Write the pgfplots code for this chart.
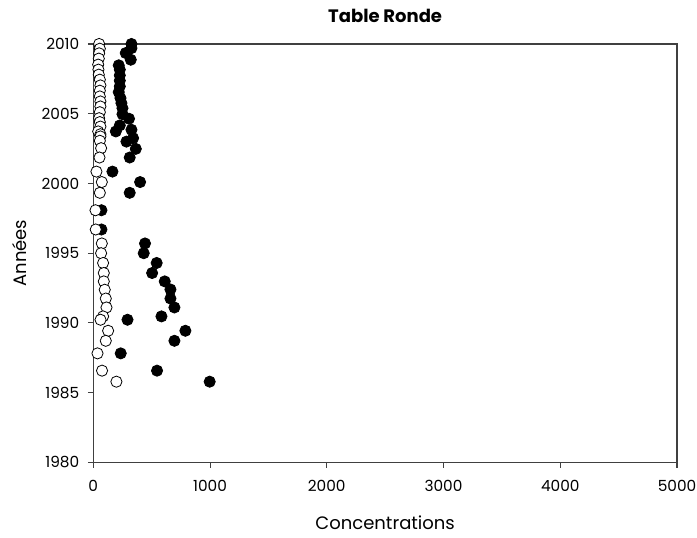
\documentclass[border=0pt]{standalone}
\usepackage{fontspec}
\setmainfont{Poppins}
\usepackage{pgfplots}
\pgfplotsset{compat=1.18}
\usepackage{pgfplotstable}

% black series (drawn first)
\pgfplotstableread{
conc year
327 2010.00
327 2009.70
278 2009.35
321 2008.87
218 2008.47
227 2008.16
227 2007.75
227 2007.37
227 2006.96
218 2006.55
233 2006.12
241 2005.76
250 2005.40
250 2004.97
306 2004.64
227 2004.16
327 2003.85
193 2003.73
341 2003.25
284 2003.00
364 2002.48
312 2001.86
164 2000.85
401 2000.10
312 1999.33
70 1998.08
70 1996.70
443 1995.70
432 1995.00
543 1994.30
504 1993.58
612 1992.98
661 1992.40
661 1991.75
695 1991.11
584 1990.47
293 1990.23
789 1989.44
695 1988.72
235 1987.82
546 1986.58
997 1985.79
}\blackdata

% white series
\pgfplotstableread{
conc year
50 2010.00
56 2009.66
50 2009.33
47 2008.95
42 2008.52
44 2008.16
47 2007.80
56 2007.44
61 2007.03
56 2006.65
56 2006.24
61 2005.88
61 2005.52
56 2005.11
50 2004.68
56 2004.40
61 2004.08
42 2003.73
61 2003.53
61 2003.37
56 2003.06
67 2002.53
53 2001.86
27 2000.85
73 2000.10
56 1999.33
19 1998.08
21 1996.70
73 1995.70
67 1995.00
84 1994.30
90 1993.58
90 1992.98
98 1992.38
107 1991.75
113 1991.11
84 1990.47
62 1990.23
127 1989.44
107 1988.72
36 1987.82
75 1986.58
198 1985.79
}\whitedata

\begin{document}
\begin{tikzpicture}
\begin{axis}[
  scale only axis,
  width=438pt, height=314pt,
  xmin=0, xmax=5000, ymin=1980, ymax=2010,
  xtick={0,1000,...,5000},
  ytick={1980,1985,...,2010},
  tick align=outside,
  xtick pos=bottom, ytick pos=left,
  major tick length=4pt,
  axis line style={black!75, line width=0.8pt},
  tick style={black!75, line width=0.8pt},
  /pgf/number format/assume math mode=true,
  /pgf/number format/1000 sep={},
  tick label style={font=\fontsize{11.5}{13}\selectfont},
  xticklabel shift=6pt,
  yticklabel shift=3pt,
  title={\textbf{Table Ronde}},
  title style={font=\fontsize{13.5}{15}\selectfont,
    at={([yshift=15pt]axis description cs:0.5,1)}, anchor=center},
  xlabel={Concentrations},
  ylabel={Années},
  label style={font=\fontsize{13.5}{15}\selectfont},
  xlabel style={at={([yshift=-45pt]axis description cs:0.5,0)}, anchor=center},
  ylabel style={at={([xshift=-55pt]axis description cs:0,0.5)}, anchor=center},
]
\addplot[only marks, mark=*, mark size=4.2pt,
  mark options={draw=black, fill=black, line width=0.6pt}]
  table[x=conc, y=year] {\blackdata};
\addplot[only marks, mark=*, mark size=4.2pt,
  mark options={draw=black, fill=white, line width=0.6pt}]
  table[x=conc, y=year] {\whitedata};
\coordinate (sw) at (rel axis cs:0,0);
\coordinate (ne) at (rel axis cs:1,1);
\end{axis}
\pgfresetboundingbox
\path (sw) ++(-70pt,-56pt) rectangle ([shift={(15pt,33pt)}]ne);
\end{tikzpicture}
\end{document}
